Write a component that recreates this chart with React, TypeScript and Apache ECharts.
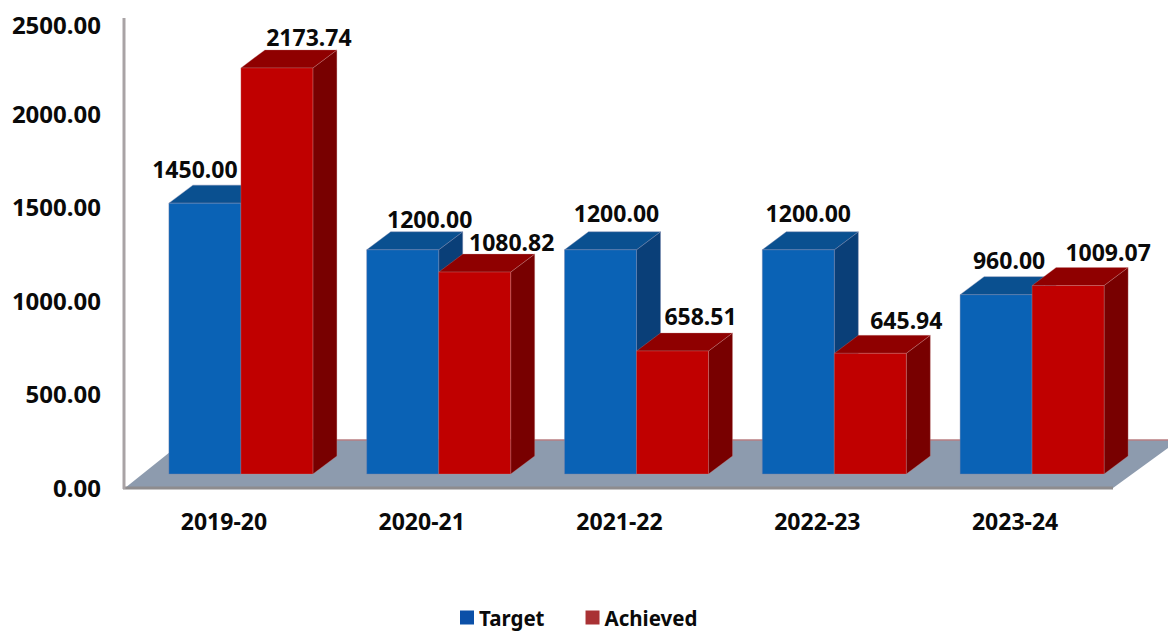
import React, { useEffect, useRef } from "react";
import * as echarts from "echarts";

const categories = ["2019-20", "2020-21", "2021-22", "2022-23", "2023-24"];
const target = [1450, 1200, 1200, 1200, 960];
const achieved = [2173.74, 1080.82, 658.51, 645.94, 1009.07];
const yMax = 2500;
const yStep = 500;

// value label centre, relative to the middle of the top edge of each bar's front face
const targetLabelShift = [[-10, -34], [27, -31], [16, -37], [10, -37], [13, -35]];
const achievedLabelShift = [[32, -31], [37, -30], [28, -35], [36, -33], [40, -34]];

const FONT = "'Noto Sans', sans-serif";
const BAR_W = 72;
const SHIFT_X = 17;
const SHIFT_Y = -13;
const DEPTH_X = 24;
const DEPTH_Y = -18;

const faces = {
  Target: { front: "#0A62B5", top: "#0A5090", side: "#0A3F78", edge: "rgba(120,130,170,0.4)" },
  Achieved: { front: "#C00000", top: "#8F0000", side: "#780000", edge: "rgba(200,140,140,0.3)" },
};

function barRender(kind: "Target" | "Achieved", shifts: number[][]) {
  const c = faces[kind];
  return (params: any, api: any) => {
    const idx = api.value(0);
    const val = api.value(1);
    const top = api.coord([idx, val]);
    const base = api.coord([idx, 0]);
    const cx = top[0] + SHIFT_X;
    const x0 = kind === "Target" ? cx - BAR_W : cx;
    const x1 = x0 + BAR_W;
    const yT = top[1] + SHIFT_Y;
    const yB = base[1] + SHIFT_Y;
    const poly = (points: number[][], fill: string) => ({
      type: "polygon",
      shape: { points },
      style: { fill, stroke: c.edge, lineWidth: 1 },
    });
    const s = shifts[idx];
    return {
      type: "group",
      children: [
        poly([[x1, yB], [x1 + DEPTH_X, yB + DEPTH_Y], [x1 + DEPTH_X, yT + DEPTH_Y], [x1, yT]], c.side),
        poly([[x0, yT], [x0 + DEPTH_X, yT + DEPTH_Y], [x1 + DEPTH_X, yT + DEPTH_Y], [x1, yT]], c.top),
        poly([[x0, yB], [x1, yB], [x1, yT], [x0, yT]], c.front),
        {
          type: "text",
          z2: 100,
          style: {
            x: (x0 + x1) / 2 + s[0],
            y: yT + s[1],
            text: val.toFixed(2),
            fill: "#0a0a0a",
            font: `bold 23px ${FONT}`,
            align: "center",
            verticalAlign: "middle",
          },
        },
      ],
    };
  };
}

function floorRender(params: any, api: any) {
  const g = params.coordSys;
  const left = g.x;
  const right = g.x + g.width;
  const bottom = g.y + g.height;
  const backY = bottom - 47;
  return {
    type: "group",
    children: [
      {
        type: "polygon",
        shape: { points: [[left, bottom + 1], [left + 60, backY], [right + 65, backY], [right - 1, bottom + 1]] },
        style: { fill: "#8D9BAE" },
      },
      {
        type: "line",
        shape: { x1: left + 60, y1: backY, x2: right + 65, y2: backY },
        style: { stroke: "#B87E82", lineWidth: 1.5 },
      },
      {
        type: "line",
        shape: { x1: left - 2, y1: bottom + 1, x2: right - 1, y2: bottom + 1 },
        style: { stroke: "#8E8C8E", lineWidth: 3 },
      },
      {
        type: "line",
        shape: { x1: left - 1, y1: g.y - 2, x2: left - 1, y2: bottom + 2 },
        style: { stroke: "#A9A3A5", lineWidth: 3 },
      },
    ],
  };
}

export default function App() {
  const ref = useRef<HTMLDivElement>(null);
  useEffect(() => {
    const chart = echarts.init(ref.current!, undefined, { renderer: "svg" });
    chart.setOption({
      animation: false,
      backgroundColor: "#ffffff",
      textStyle: { fontFamily: FONT },
      grid: { left: 125, right: 54, top: 20, bottom: 146 },
      legend: {
        left: 455,
        top: 602,
        itemWidth: 14,
        itemHeight: 14,
        itemGap: 41,
        icon: "rect",
        textStyle: { fontFamily: FONT, fontWeight: "bold", fontSize: 20.5, color: "#0a0a0a" },
        data: [
          { name: "Target", itemStyle: { color: "#0B50A8" } },
          { name: "Achieved", itemStyle: { color: "#A93234" } },
        ],
      },
      xAxis: {
        type: "category",
        data: categories,
        axisLine: { show: false },
        axisTick: { show: false },
        axisLabel: { fontFamily: FONT, fontWeight: "bold", fontSize: 23, color: "#0a0a0a", margin: 22 },
      },
      yAxis: {
        type: "value",
        min: 0,
        max: yMax,
        interval: yStep,
        splitLine: { show: false },
        axisTick: { show: false },
        axisLine: { show: false },
        axisLabel: {
          margin: 24,
          color: "#0a0a0a",
          fontFamily: FONT,
          fontWeight: "bold",
          fontSize: 24,
          formatter: (v: number) => (v === yMax ? `{t|${v.toFixed(2)}}` : v.toFixed(2)),
          rich: { t: { padding: [8, 0, 0, 0], fontFamily: FONT, fontWeight: "bold", fontSize: 24, color: "#0a0a0a" } },
        },
      },
      series: [
        {
          type: "custom",
          name: "Floor",
          renderItem: floorRender,
          data: [[0, 0]],
          clip: false,
          silent: true,
          encode: { x: 0, y: 1 },
        },
        {
          type: "custom",
          name: "Target",
          renderItem: barRender("Target", targetLabelShift),
          itemStyle: { color: "#0B50A8" },
          data: target.map((v, i) => [i, v]),
          encode: { x: 0, y: 1 },
          clip: false,
        },
        {
          type: "custom",
          name: "Achieved",
          renderItem: barRender("Achieved", achievedLabelShift),
          itemStyle: { color: "#A93234" },
          data: achieved.map((v, i) => [i, v]),
          encode: { x: 0, y: 1 },
          clip: false,
        },
      ],
    });
    return () => chart.dispose();
  }, []);
  return (
    <div
      ref={ref}
      style={{ position: "absolute", left: 0, top: 0, width: 1168, height: 633 }}
    />
  );
}
